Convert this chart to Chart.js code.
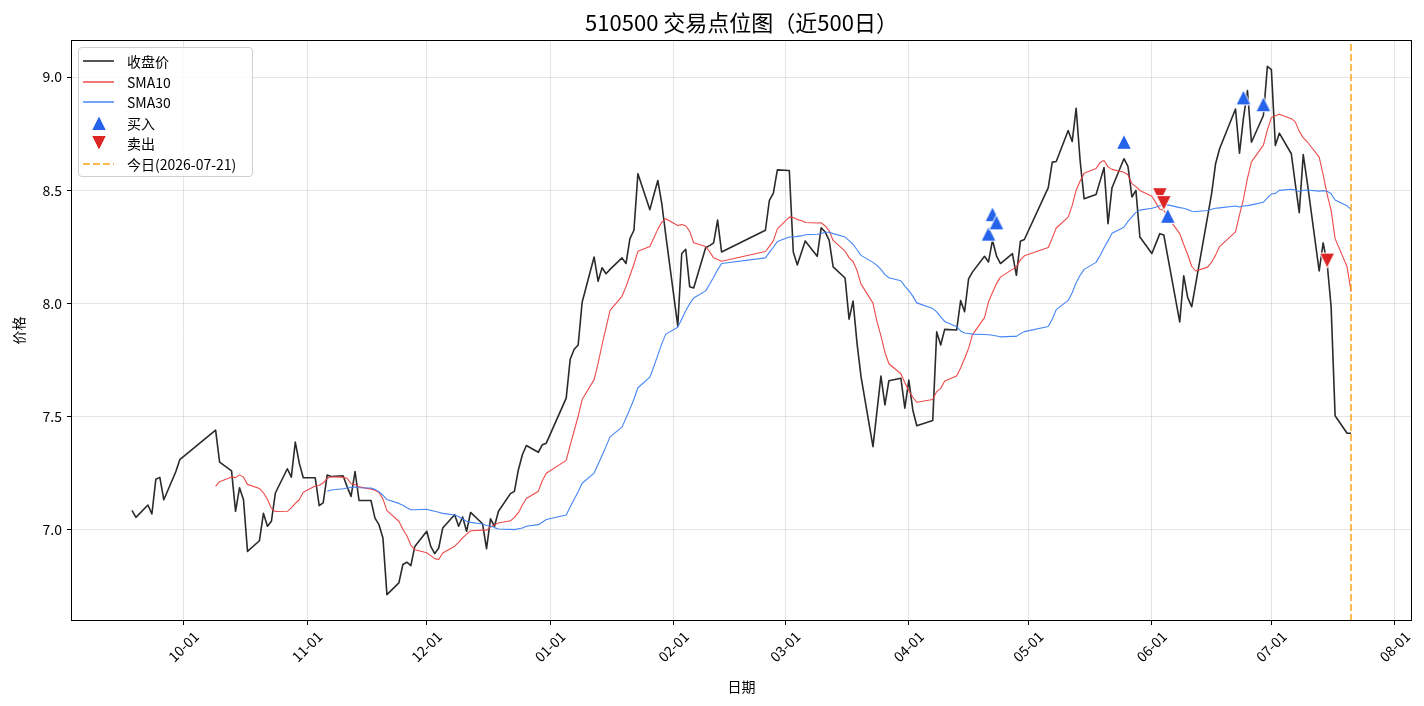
<!DOCTYPE html>
<html>
<head>
<meta charset="utf-8">
<script src="https://cdn.jsdelivr.net/npm/chart.js@4.4.1/dist/chart.umd.min.js"></script>
<style>
html,body{margin:0;padding:0;background:#fff;}
#wrap{position:relative;width:1424px;height:706px;font-family:"Noto Sans CJK SC","Noto Sans",sans-serif;color:#000;}
#c{position:absolute;left:0;top:0;}
#title{position:absolute;left:71px;width:1341px;top:6px;text-align:center;font-size:22px;line-height:30px;white-space:nowrap;}
#legend{position:absolute;left:78px;top:47px;width:173px;height:128px;border:1px solid #cfcfcf;border-radius:4px;background:rgba(255,255,255,0.85);}
.row{position:absolute;left:0;height:20px;width:170px;}
.row .h{position:absolute;left:4px;top:0;width:31px;height:20px;}
.row .t{position:absolute;left:48px;top:0;height:20px;line-height:20px;font-size:14px;white-space:nowrap;}
</style>
</head>
<body>
<div id="wrap">
<canvas id="c" width="1424" height="706"></canvas>
<div id="title">510500 交易点位图（近500日）</div>
<div id="legend"></div>
</div>
<script>
// ---------------- data ----------------
const DATES = [
"2025-09-18","2025-09-19","2025-09-22","2025-09-23","2025-09-24","2025-09-25","2025-09-26","2025-09-29","2025-09-30",
"2025-10-09","2025-10-10","2025-10-13","2025-10-14","2025-10-15","2025-10-16","2025-10-17","2025-10-20","2025-10-21","2025-10-22","2025-10-23","2025-10-24","2025-10-27","2025-10-28","2025-10-29","2025-10-30","2025-10-31",
"2025-11-03","2025-11-04","2025-11-05","2025-11-06","2025-11-07","2025-11-10","2025-11-11","2025-11-12","2025-11-13","2025-11-14","2025-11-17","2025-11-18","2025-11-19","2025-11-20","2025-11-21","2025-11-24","2025-11-25","2025-11-26","2025-11-27","2025-11-28",
"2025-12-01","2025-12-02","2025-12-03","2025-12-04","2025-12-05","2025-12-08","2025-12-09","2025-12-10","2025-12-11","2025-12-12","2025-12-15","2025-12-16","2025-12-17","2025-12-18","2025-12-19","2025-12-22","2025-12-23","2025-12-24","2025-12-25","2025-12-26","2025-12-29","2025-12-30","2025-12-31",
"2026-01-05","2026-01-06","2026-01-07","2026-01-08","2026-01-09","2026-01-12","2026-01-13","2026-01-14","2026-01-15","2026-01-16","2026-01-19","2026-01-20","2026-01-21","2026-01-22","2026-01-23","2026-01-26","2026-01-27","2026-01-28","2026-01-29","2026-01-30",
"2026-02-02","2026-02-03","2026-02-04","2026-02-05","2026-02-06","2026-02-09","2026-02-10","2026-02-11","2026-02-12","2026-02-13","2026-02-24","2026-02-25","2026-02-26","2026-02-27",
"2026-03-02","2026-03-03","2026-03-04","2026-03-05","2026-03-06","2026-03-09","2026-03-10","2026-03-11","2026-03-12","2026-03-13","2026-03-16","2026-03-17","2026-03-18","2026-03-19","2026-03-20","2026-03-23","2026-03-24","2026-03-25","2026-03-26","2026-03-27","2026-03-30","2026-03-31",
"2026-04-01","2026-04-02","2026-04-03","2026-04-07","2026-04-08","2026-04-09","2026-04-10","2026-04-13","2026-04-14","2026-04-15","2026-04-16","2026-04-17","2026-04-20","2026-04-21","2026-04-22","2026-04-23","2026-04-24","2026-04-27","2026-04-28","2026-04-29","2026-04-30",
"2026-05-06","2026-05-07","2026-05-08","2026-05-11","2026-05-12","2026-05-13","2026-05-14","2026-05-15","2026-05-18","2026-05-19","2026-05-20","2026-05-21","2026-05-22","2026-05-25","2026-05-26","2026-05-27","2026-05-28","2026-05-29",
"2026-06-01","2026-06-02","2026-06-03","2026-06-04","2026-06-05","2026-06-08","2026-06-09","2026-06-10","2026-06-11","2026-06-12","2026-06-15","2026-06-16","2026-06-17","2026-06-18","2026-06-22","2026-06-23","2026-06-24","2026-06-25","2026-06-26","2026-06-29","2026-06-30",
"2026-07-01","2026-07-02","2026-07-03","2026-07-06","2026-07-07","2026-07-08","2026-07-09","2026-07-10","2026-07-13","2026-07-14","2026-07-15","2026-07-16","2026-07-17","2026-07-20","2026-07-21"
];

const CLOSE = [
7.085,7.054,7.109,7.069,7.223,7.231,7.132,7.256,7.309,
7.440,7.298,7.260,7.081,7.185,7.132,6.904,6.951,7.072,7.015,7.037,7.162,7.269,7.232,7.387,7.294,7.229,
7.229,7.106,7.118,7.241,7.235,7.238,7.190,7.147,7.257,7.129,7.129,7.051,7.022,6.963,6.713,6.765,6.846,6.856,6.841,6.926,
6.993,6.926,6.894,6.919,7.007,7.066,7.015,7.056,6.993,7.076,7.026,6.916,7.048,7.015,7.081,7.159,7.169,7.265,7.331,7.372,7.342,7.375,7.382,
7.581,7.753,7.797,7.816,8.005,8.205,8.098,8.157,8.131,8.150,8.201,8.176,8.286,8.323,8.573,8.414,8.480,8.543,8.440,8.300,
7.900,8.220,8.239,8.073,8.068,8.246,8.255,8.267,8.368,8.227,8.323,8.455,8.487,8.590,
8.587,8.227,8.170,8.223,8.276,8.208,8.334,8.315,8.279,8.161,8.112,7.930,8.010,7.823,7.676,7.367,7.523,7.679,7.551,7.658,7.669,7.537,
7.661,7.529,7.459,7.482,7.874,7.816,7.885,7.882,8.012,7.963,8.108,8.139,8.208,8.183,8.279,8.210,8.176,8.220,8.124,8.274,8.282,
8.511,8.624,8.627,8.764,8.715,8.862,8.630,8.462,8.481,8.540,8.600,8.352,8.511,8.639,8.605,8.470,8.499,8.293,
8.220,8.264,8.308,8.302,8.205,7.918,8.122,8.025,7.985,8.085,8.384,8.485,8.617,8.683,8.859,8.664,8.820,8.940,8.712,8.830,9.047,
9.033,8.698,8.752,8.661,8.529,8.401,8.657,8.536,8.143,8.267,8.176,7.985,7.503,7.426,7.426
];

const SMA10 = [
null,null,null,null,null,null,null,null,null,
7.191,7.212,7.233,7.230,7.242,7.232,7.200,7.182,7.163,7.134,
7.094,7.080,7.081,7.096,7.116,7.132,7.165,7.193,7.196,7.206,
7.227,7.234,7.231,7.227,7.203,7.199,7.189,7.179,7.174,7.164,
7.136,7.084,7.037,7.002,6.973,6.932,6.911,6.898,6.885,6.872,
6.868,6.897,6.927,6.944,6.964,6.980,6.995,6.998,6.997,7.012,
7.022,7.029,7.039,7.054,7.075,7.109,7.138,7.170,7.216,7.249,
7.306,7.373,7.437,7.501,7.575,7.663,7.735,7.817,7.893,7.969,
8.031,8.074,8.123,8.173,8.230,8.251,8.289,8.328,8.359,8.374,
8.344,8.348,8.343,8.318,8.268,8.251,8.228,8.201,8.194,8.186,
8.229,8.252,8.277,8.329,8.381,8.379,8.370,8.366,8.357,8.355,
8.356,8.342,8.321,8.278,8.231,8.201,8.185,8.145,8.085,8.001,
7.920,7.856,7.783,7.733,7.689,7.649,7.614,7.585,7.563,7.575,
7.610,7.624,7.657,7.679,7.714,7.756,7.801,7.862,7.937,8.007,
8.048,8.087,8.116,8.150,8.161,8.192,8.210,8.247,8.288,8.333,
8.381,8.432,8.500,8.541,8.575,8.596,8.622,8.631,8.603,8.592,
8.579,8.568,8.529,8.516,8.499,8.473,8.445,8.416,8.411,8.381,
8.308,8.260,8.216,8.164,8.143,8.160,8.182,8.213,8.251,8.316,
8.391,8.461,8.552,8.625,8.699,8.766,8.821,8.829,8.836,8.816,
8.802,8.760,8.732,8.714,8.646,8.568,8.482,8.411,8.286,8.162,
8.052
];

const SMA30 = [
null,null,null,null,null,null,null,null,null,null,
null,null,null,null,null,null,null,null,null,null,
null,null,null,null,null,null,null,null,null,
7.170,7.175,7.181,7.184,7.187,7.188,7.185,7.184,7.178,7.168,
7.152,7.133,7.116,7.108,7.097,7.088,7.088,7.090,7.085,7.081,
7.077,7.072,7.065,7.058,7.047,7.037,7.032,7.025,7.018,7.016,
7.009,7.003,7.001,7.000,7.004,7.007,7.015,7.022,7.033,7.045,
7.065,7.100,7.134,7.167,7.205,7.250,7.289,7.328,7.368,7.410,
7.453,7.492,7.533,7.576,7.627,7.674,7.721,7.771,7.822,7.864,
7.894,7.931,7.967,7.998,8.024,8.055,8.084,8.115,8.148,8.176,
8.201,8.225,8.248,8.273,8.293,8.293,8.296,8.298,8.303,8.305,
8.309,8.314,8.314,8.308,8.293,8.277,8.261,8.237,8.212,8.181,
8.168,8.150,8.127,8.113,8.100,8.076,8.056,8.032,8.002,7.977,
7.962,7.940,7.920,7.897,7.878,7.869,7.867,7.864,7.862,7.861,
7.859,7.856,7.852,7.854,7.854,7.866,7.875,7.898,7.930,7.972,
8.013,8.047,8.091,8.124,8.150,8.181,8.211,8.246,8.276,8.310,
8.336,8.362,8.382,8.402,8.412,8.420,8.425,8.431,8.434,8.435,
8.423,8.420,8.415,8.407,8.406,8.410,8.416,8.420,8.422,8.430,
8.426,8.430,8.432,8.435,8.447,8.466,8.483,8.486,8.499,8.504,
8.501,8.494,8.500,8.501,8.496,8.498,8.495,8.484,8.457,8.431,
8.415
];

const BUY_DATES  = ["2026-04-21","2026-04-22","2026-04-23","2026-05-25","2026-06-05","2026-06-24","2026-06-29"];
const BUY_PRICES = [8.308, 8.394, 8.358, 8.714, 8.387, 8.910, 8.880];
const SELL_DATES  = ["2026-06-03","2026-06-04","2026-07-15"];
const SELL_PRICES = [8.478, 8.443, 8.189];
const TODAY = "2026-07-21";

const X_TICK_DATES  = ["2025-10-01","2025-11-01","2025-12-01","2026-01-01","2026-02-01","2026-03-01","2026-04-01","2026-05-01","2026-06-01","2026-07-01","2026-08-01"];
const X_TICK_LABELS = ["10-01","11-01","12-01","01-01","02-01","03-01","04-01","05-01","06-01","07-01","08-01"];
const Y_TICKS = [7.0, 7.5, 8.0, 8.5, 9.0];

const LABELS = ["收盘价", "SMA10", "SMA30", "买入", "卖出", "今日(" + TODAY + ")"];

// ---------------- helpers ----------------
const dayNum = s => { const p = s.split('-').map(Number); return Date.UTC(p[0], p[1] - 1, p[2]) / 864e5; };
const XS = DATES.map(dayNum);
const series = arr => arr.map((v, i) => ({x: XS[i], y: v})).filter(p => p.y !== null);

const xFirst = XS[0], xLast = XS[XS.length - 1];
const xPad = (xLast - xFirst) * 0.05;
const yLo0 = Math.min(...CLOSE), yHi0 = Math.max(...CLOSE);
const yPad = (yHi0 - yLo0) * 0.05;
const Y_LO = yLo0 - yPad, Y_HI = yHi0 + yPad;

function triangle(color, down) {
  const c = document.createElement('canvas');
  c.width = 18; c.height = 18;
  const g = c.getContext('2d');
  g.beginPath();
  if (!down) { g.moveTo(9, 1.5); g.lineTo(16.5, 16.5); g.lineTo(1.5, 16.5); }
  else { g.moveTo(1.5, 1.5); g.lineTo(16.5, 1.5); g.lineTo(9, 16.5); }
  g.closePath();
  g.fillStyle = color; g.fill();
  g.lineWidth = 1; g.strokeStyle = '#ffffff'; g.stroke();
  return c;
}
const BUY_COLOR = '#2563eb', SELL_COLOR = '#dc2626';
const upImg = triangle(BUY_COLOR, false);
const downImg = triangle(SELL_COLOR, true);

const FONT = '"Noto Sans CJK SC", "Noto Sans", sans-serif';
Chart.defaults.font.family = FONT;
Chart.defaults.color = '#000';

const framePlugin = {
  id: 'frame',
  afterDraw(chart) {
    const {ctx, chartArea: a} = chart;
    const l = Math.round(a.left), t = Math.round(a.top), r = Math.round(a.right), b = Math.round(a.bottom);
    ctx.save();
    ctx.strokeStyle = '#000';
    ctx.lineWidth = 1;
    ctx.strokeRect(l + 0.5, t + 0.5, r - l - 1, b - t - 1);
    ctx.restore();
  }
};

const chart = new Chart(document.getElementById('c'), {
  type: 'line',
  data: {
    datasets: [
      {label: LABELS[0], data: series(CLOSE), borderColor: '#2b2b2b', borderWidth: 1.6, pointRadius: 0, tension: 0, borderJoinStyle: 'round', order: 6},
      {label: LABELS[1], data: series(SMA10), borderColor: 'rgba(236,64,64,0.95)', borderWidth: 1.1, pointRadius: 0, tension: 0, borderJoinStyle: 'round', order: 5},
      {label: LABELS[2], data: series(SMA30), borderColor: 'rgba(59,126,246,0.95)', borderWidth: 1.1, pointRadius: 0, tension: 0, borderJoinStyle: 'round', order: 4},
      {label: LABELS[3], type: 'scatter', data: BUY_DATES.map((d, i) => ({x: dayNum(d), y: BUY_PRICES[i]})), pointStyle: upImg, pointRadius: 8, order: 2, backgroundColor: BUY_COLOR, borderColor: BUY_COLOR},
      {label: LABELS[4], type: 'scatter', data: SELL_DATES.map((d, i) => ({x: dayNum(d), y: SELL_PRICES[i]})), pointStyle: downImg, pointRadius: 8, order: 1, backgroundColor: SELL_COLOR, borderColor: SELL_COLOR},
      {label: LABELS[5], data: [{x: dayNum(TODAY), y: Y_LO}, {x: dayNum(TODAY), y: Y_HI}], borderColor: 'rgba(245,158,11,0.72)', borderWidth: 2, borderDash: [7, 3], pointRadius: 0, order: 3}
    ]
  },
  options: {
    responsive: false,
    animation: false,
    devicePixelRatio: 1,
    events: [],
    layout: {padding: {top: 40, left: 0, right: 12, bottom: 0}},
    plugins: {legend: {display: false}, tooltip: {enabled: false}, title: {display: false}},
    scales: {
      x: {
        type: 'linear',
        min: xFirst - xPad,
        max: xLast + xPad,
        afterBuildTicks: s => { s.ticks = X_TICK_DATES.map(d => ({value: dayNum(d)})); },
        afterFit: s => { s.height = 85; },
        ticks: {
          callback: (v, i) => X_TICK_LABELS[i],
          autoSkip: false, minRotation: 45, maxRotation: 45,
          font: {size: 14}, color: '#000', padding: 3, labelOffset: 12.5
        },
        grid: {color: 'rgba(0,0,0,0.1)', lineWidth: 1, tickColor: '#000', tickLength: 4, tickWidth: 1},
        border: {display: false},
        title: {display: true, text: '日期', font: {size: 14}, color: '#000', padding: {top: 0, bottom: 11}}
      },
      y: {
        type: 'linear',
        min: Y_LO,
        max: Y_HI,
        afterBuildTicks: s => { s.ticks = Y_TICKS.map(v => ({value: v})); },
        afterFit: s => { s.width = 71; },
        ticks: {callback: v => Number(v).toFixed(1), font: {size: 14}, color: '#000', padding: 5},
        grid: {color: 'rgba(0,0,0,0.1)', lineWidth: 1, tickColor: '#000', tickLength: 4, tickWidth: 1},
        border: {display: false},
        title: {display: true, text: '价格', font: {size: 14}, color: '#000', padding: {top: 10, bottom: 0}}
      }
    }
  },
  plugins: [framePlugin]
});

// ---------------- legend (built from the chart's datasets) ----------------
(function buildLegend() {
  const el = document.getElementById('legend');
  const NS = 'http://www.w3.org/2000/svg';
  chart.data.datasets.forEach((ds, i) => {
    const row = document.createElement('div');
    row.className = 'row';
    row.style.top = (3 + i * 20.6) + 'px';
    const h = document.createElement('div');
    h.className = 'h';
    if (ds.type === 'scatter') {
      const img = document.createElement('img');
      img.src = ds.pointStyle.toDataURL();
      img.style.cssText = 'position:absolute;left:' + (15.5 - 9) + 'px;top:1px;width:18px;height:18px;';
      h.appendChild(img);
    } else {
      const svg = document.createElementNS(NS, 'svg');
      svg.setAttribute('width', '31'); svg.setAttribute('height', '20');
      const ln = document.createElementNS(NS, 'line');
      ln.setAttribute('x1', '0'); ln.setAttribute('x2', '31');
      ln.setAttribute('y1', '10'); ln.setAttribute('y2', '10');
      ln.setAttribute('stroke', ds.borderColor);
      ln.setAttribute('stroke-width', String(Math.max(ds.borderWidth, 1.5)));
      if (ds.borderDash) ln.setAttribute('stroke-dasharray', ds.borderDash.join(','));
      svg.appendChild(ln);
      h.appendChild(svg);
    }
    const t = document.createElement('div');
    t.className = 't';
    t.textContent = ds.label;
    row.appendChild(h);
    row.appendChild(t);
    el.appendChild(row);
  });
})();
</script>
</body>
</html>
